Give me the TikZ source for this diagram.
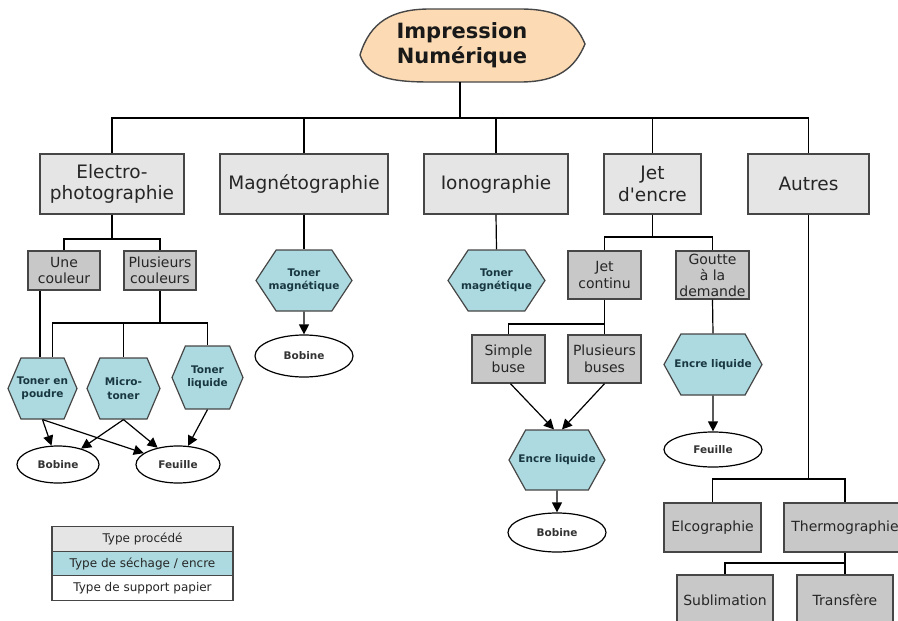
\documentclass[tikz,border=0pt]{standalone}
\usepackage{fontspec}
\setmainfont{DejaVu Sans}
\usepackage{tikz}
\usetikzlibrary{shapes.geometric, shapes.symbols, arrows.meta, positioning}
\usepackage{xcolor}
\definecolor{boxgray}{RGB}{229,229,229}
\definecolor{subgray}{RGB}{200,200,200}
\definecolor{inkcyan}{RGB}{172,218,224}
\definecolor{peach}{RGB}{252,219,180}
\definecolor{edgegray}{RGB}{70,70,70}
\definecolor{tealtext}{RGB}{25,55,65}

\begin{document}
\begin{tikzpicture}[x=1pt, y=-1pt,
    racine/.style={rectangle, minimum width=200pt, minimum height=73pt, inner sep=0pt, align=center, text=black!90, font=\bfseries\fontsize{21}{25}\selectfont},
    procede/.style={rectangle, draw=edgegray, fill=boxgray, line width=1.4pt, minimum height=60pt, inner sep=2pt, align=center, text=black!85, font=\fontsize{18.5}{21.5}\selectfont},
    sousproc/.style={rectangle, draw=edgegray, fill=subgray, line width=1.4pt, inner sep=1pt, align=center, text=black!85, font=\fontsize{14}{16.5}\selectfont},
    encre/.style={signal, signal to=west and east, signal pointer angle=134, draw=edgegray, fill=inkcyan, line width=1.2pt, minimum height=61pt, inner ysep=1pt, inner xsep=-12pt, align=center, text=tealtext, font=\bfseries\fontsize{10.5}{13.5}\selectfont},
    support/.style={ellipse, draw=black, fill=white, line width=1.2pt, inner sep=1pt, text=black!80, font=\bfseries\fontsize{10.5}{13}\selectfont},
    lien/.style={line width=1.2pt},
    arrow/.style={-{Triangle[length=10pt, width=10pt]}, line width=1.2pt},
    legende/.style={rectangle, draw=edgegray, line width=1.2pt, minimum width=181pt, minimum height=24.5pt, outer sep=0pt, text=black!85, font=\fontsize{12}{14}\selectfont}
]
    \useasboundingbox (0,0) rectangle (898,621);
    \clip (0,0) rectangle (898,621);

    % Root
    \draw[draw=edgegray, fill=peach, line width=1.4pt] (360,55)
        .. controls (370,22) and (392,9) .. (430,9) -- (520,9)
        .. controls (558,9) and (575,20) .. (585,44)
        .. controls (575,68) and (558,82) .. (520,82) -- (430,82)
        .. controls (392,82) and (368,78) .. (360,55) -- cycle;
    \node[racine] (title) at (462,45.5) {Impression\\Numérique};

    % Procedes
    \node[procede, minimum width=144pt] (electro) at (112,184) {Electro-\\photographie};
    \node[procede, minimum width=168pt] (magneto) at (304,184) {Magnétographie};
    \node[procede, minimum width=144pt] (iono) at (496,184) {Ionographie};
    \node[procede, minimum width=97pt] (jet) at (652.5,184) {Jet\\d\textquotesingle encre};
    \node[procede, minimum width=121pt] (autres) at (808.5,184) {Autres};

    % Sous-procedes
    \node[sousproc, minimum width=72pt, minimum height=39pt] (une) at (64,270.5) {Une\\couleur};
    \node[sousproc, minimum width=72pt, minimum height=39pt] (plusieurs) at (160,270.5) {Plusieurs\\couleurs};
    \node[sousproc, minimum width=73pt, minimum height=48pt] (continu) at (604.5,275) {Jet\\continu};
    \node[sousproc, minimum width=73pt, minimum height=48pt, inner ysep=0pt, font=\fontsize{14}{16}\selectfont] (goutte) at (712.5,275) {Goutte\\à la\\demande};
    \node[sousproc, minimum width=73pt, minimum height=48pt] (simple) at (508.5,359) {Simple\\buse};
    \node[sousproc, minimum width=73pt, minimum height=48pt] (buses) at (604.5,359) {Plusieurs\\buses};
    \node[sousproc, minimum width=97pt, minimum height=49pt] (elco) at (712.5,527.5) {Elcographie};
    \node[sousproc, minimum width=122pt, minimum height=49pt] (thermo) at (845,527.5) {Thermographie};
    \node[sousproc, minimum width=96pt, minimum height=50pt] (subli) at (725,600) {Sublimation};
    \node[sousproc, minimum width=96pt, minimum height=50pt] (transfere) at (845,600) {Transfère};

    % Sechage / encre
    \node[encre, minimum width=69pt] (poudre) at (42.5,388.5) {Toner en\\poudre};
    \node[encre, minimum width=73pt] (micro) at (123.5,388.5) {Micro-\\toner};
    \node[encre, minimum width=71pt, minimum height=63pt] (liquide) at (207.5,377.5) {Toner\\liquide};
    \node[encre, signal pointer angle=113, minimum width=96pt] (tonmagA) at (304,280.5) {Toner\\magnétique};
    \node[encre, signal pointer angle=113, minimum width=97pt] (tonmagB) at (496.5,280.5) {Toner\\magnétique};
    \node[encre, signal pointer angle=122, minimum width=96pt, minimum height=60pt] (encreA) at (557,460) {Encre liquide};
    \node[encre, signal pointer angle=122, minimum width=98pt] (encreB) at (713,364.5) {Encre liquide};

    % Supports
    \node[support, minimum width=82pt, minimum height=37pt] (bobineA) at (58,464.5) {Bobine};
    \node[support, minimum width=84pt, minimum height=37pt] (feuilleA) at (178,464.5) {Feuille};
    \node[support, minimum width=98pt, minimum height=42pt] (bobineB) at (304,356) {Bobine};
    \node[support, minimum width=98pt, minimum height=39pt] (bobineC) at (557,532.5) {Bobine};
    \node[support, minimum width=98pt, minimum height=35pt] (feuilleB) at (713,449.5) {Feuille};

    % Legende
    \node[legende, fill=boxgray] (legproc) at (142.5,539) {Type procédé};
    \node[legende, fill=inkcyan, below=0pt of legproc] (legencre) {Type de séchage / encre};
    \node[legende, fill=white, below=0pt of legencre] (legpapier) {Type de support papier};

    % Tree lines
    \coordinate (bus) at (460,118);
    \draw[lien] (title.south -| bus) -- (bus);
    \foreach \n in {electro, magneto, iono, jet, autres}
        \draw[lien] (bus) -| (\n.north);

    \coordinate (ebus) at (112,239);
    \draw[lien] (electro.south) -- (ebus);
    \draw[lien] (ebus) -| (une.north);
    \draw[lien] (ebus) -| (plusieurs.north);
    \draw[lien] (poudre.north -| 40,0) -- (une.south -| 40,0);
    \coordinate (pbus) at (160,323);
    \draw[lien] (plusieurs.south) -- (pbus);
    \draw[lien] (pbus) -| ([xshift=10pt]poudre.north);
    \draw[lien] (pbus) -| (micro.north);
    \draw[lien] (pbus) -| (liquide.north);

    \draw[lien] (magneto.south) -- (tonmagA.north);
    \draw[lien] (iono.south) -- (tonmagB.north);

    \coordinate (jbus) at (652.5,237);
    \draw[lien] (jet.south) -- (jbus);
    \draw[lien] (jbus) -| (continu.north);
    \draw[lien] (jbus) -| (goutte.north);
    \coordinate (cbus) at (604.5,324);
    \draw[lien] (continu.south) -- (buses.north);
    \draw[lien] (cbus) -| (simple.north);
    \draw[lien] (goutte.south) -- (encreB.north);

    \coordinate (abus) at (808.5,479);
    \draw[lien] (autres.south) -- (abus);
    \draw[lien] (abus) -| (elco.north);
    \draw[lien] (abus) -| (thermo.north);
    \coordinate (tbus) at (845,563);
    \draw[lien] (thermo.south) -- (transfere.north);
    \draw[lien] (tbus) -| (subli.north);

    % Arrows
    \draw[arrow] (poudre.south) -- (bobineA);
    \draw[arrow] (poudre.south) -- (feuilleA);
    \draw[arrow] (micro.south) -- (bobineA);
    \draw[arrow] (micro.south) -- (feuilleA);
    \draw[arrow] (liquide.south) -- (feuilleA);
    \draw[arrow] (tonmagA) -- (bobineB);
    \draw[arrow] ([xshift=2pt]simple.south) -- ([xshift=-3pt]encreA.north);
    \draw[arrow] (buses.south) -- ([xshift=5pt]encreA.north);
    \draw[arrow] (encreA) -- (bobineC);
    \draw[arrow] (encreB) -- (feuilleB);

\end{tikzpicture}
\end{document}
